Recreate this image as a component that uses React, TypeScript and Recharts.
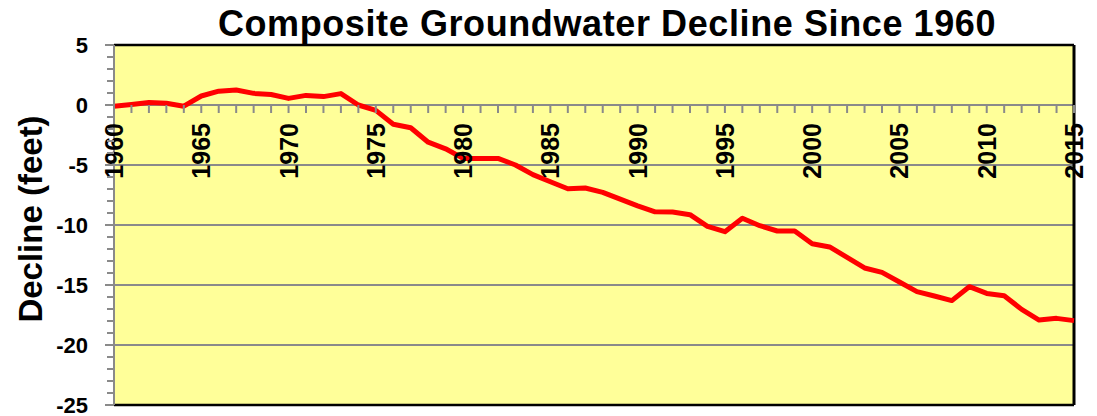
import React from 'react';
import {
  LineChart,
  Line,
  XAxis,
  YAxis,
  CartesianGrid,
  ReferenceLine,
} from 'recharts';

const YEARS = [
  1960, 1961, 1962, 1963, 1964, 1965, 1966, 1967, 1968, 1969,
  1970, 1971, 1972, 1973, 1974, 1975, 1976, 1977, 1978, 1979,
  1980, 1981, 1982, 1983, 1984, 1985, 1986, 1987, 1988, 1989,
  1990, 1991, 1992, 1993, 1994, 1995, 1996, 1997, 1998, 1999,
  2000, 2001, 2002, 2003, 2004, 2005, 2006, 2007, 2008, 2009,
  2010, 2011, 2012, 2013, 2014, 2015,
];

const DECLINE = [
  -0.1, 0.05, 0.2, 0.15, -0.1, 0.75, 1.15, 1.25, 0.97, 0.88,
  0.55, 0.8, 0.7, 0.95, 0.0, -0.45, -1.6, -1.9, -3.1, -3.65,
  -4.45, -4.45, -4.45, -5.0, -5.8, -6.4, -6.98, -6.92, -7.28, -7.85,
  -8.4, -8.9, -8.92, -9.14, -10.12, -10.56, -9.44, -10.06, -10.5, -10.5,
  -11.56, -11.83, -12.69, -13.58, -13.95, -14.75, -15.55, -15.92, -16.3, -15.14,
  -15.7, -15.9, -17.03, -17.92, -17.78, -17.97,
];

const Y_TICKS = [
  -25, -24, -23, -22, -21, -20, -19, -18, -17, -16, -15, -14, -13, -12, -11,
  -10, -9, -8, -7, -6, -5, -4, -3, -2, -1, 0, 1, 2, 3, 4, 5,
];
const Y_GRID = [-20, -15, -10, -5];
const Y_MIN = -25;
const Y_MAX = 5;
const X_MIN = 1960;
const X_MAX = 2015;

const TITLE = 'Composite Groundwater Decline Since 1960';
const Y_LABEL = 'Decline (feet)';

const FONT = '"Liberation Sans", Arial, sans-serif';
const GRAY = '#8a8a8a';

const CHART_W = 1097;
const CHART_H = 416;
const MARGIN = { top: 45, right: 23, bottom: 10, left: 0 };
const Y_AXIS_W = 114;
const X_AXIS_H = 1;
const PLOT_H = CHART_H - MARGIN.top - MARGIN.bottom - X_AXIS_H;

const data = YEARS.map((year, i) => ({ year, decline: DECLINE[i] }));

// x-axis crosses the value axis at 0
function XTick(props: any) {
  const { x, payload } = props;
  const zeroY = MARGIN.top + (PLOT_H * (Y_MAX - 0)) / (Y_MAX - Y_MIN);
  const v = payload.value as number;
  const major = v % 5 === 0;
  return (
    <g>
      <line x1={x} x2={x} y1={zeroY} y2={zeroY + 8} stroke={GRAY} strokeWidth={2} />
      {major && (
        <text
          transform={`translate(${x},${zeroY + 18}) rotate(-90)`}
          textAnchor="end"
          dy="0.36em"
          fontFamily={FONT}
          fontWeight="bold"
          fontSize={25}
          fill="#000"
        >
          {v}
        </text>
      )}
    </g>
  );
}

function YTick(props: any) {
  const { y, payload } = props;
  const axisX = MARGIN.left + Y_AXIS_W;
  const v = payload.value as number;
  const major = v % 5 === 0;
  return (
    <g>
      <line x1={axisX - (major ? 9 : 7)} x2={axisX} y1={y} y2={y} stroke={GRAY} strokeWidth={2} />
      {major && (
        <text
          x={axisX - 26}
          y={y}
          dy="0.36em"
          textAnchor="end"
          fontFamily={FONT}
          fontWeight="bold"
          fontSize={22}
          fill="#000"
        >
          {v}
        </text>
      )}
    </g>
  );
}

export default function App() {
  return (
    <div style={{ position: 'absolute', left: 0, top: 0, width: CHART_W, height: CHART_H, background: '#fff' }}>
      <LineChart width={CHART_W} height={CHART_H} data={data} margin={MARGIN}>
        <CartesianGrid
          horizontal={true}
          vertical={false}
          horizontalValues={Y_GRID}
          stroke={GRAY}
          strokeWidth={2}
          fill="#FFFF99"
          fillOpacity={1}
        />
        <ReferenceLine y={0} stroke={GRAY} strokeWidth={2} />
        <XAxis
          dataKey="year"
          type="number"
          domain={[X_MIN, X_MAX]}
          ticks={YEARS}
          interval={0}
          height={X_AXIS_H}
          axisLine={false}
          tickLine={false}
          tickSize={0}
          tickMargin={0}
          tick={(p: any) => <XTick {...p} />}
          allowDecimals={false}
        />
        <YAxis
          type="number"
          domain={[Y_MIN, Y_MAX]}
          ticks={Y_TICKS}
          interval={0}
          width={Y_AXIS_W}
          axisLine={{ stroke: GRAY, strokeWidth: 2 }}
          tickLine={false}
          tickSize={0}
          tickMargin={0}
          tick={(p: any) => <YTick {...p} />}
        />
        <ReferenceLine y={Y_MAX} stroke="#000" strokeWidth={2.5} />
        <ReferenceLine y={Y_MIN} stroke="#000" strokeWidth={2.5} />
        <ReferenceLine x={X_MAX} stroke="#000" strokeWidth={3} />
        <Line
          type="linear"
          dataKey="decline"
          stroke="#FF0000"
          strokeWidth={5}
          strokeLinejoin="round"
          dot={false}
          activeDot={false}
          isAnimationActive={false}
        />
      </LineChart>
      <svg
        width={CHART_W}
        height={CHART_H}
        style={{ position: 'absolute', left: 0, top: 0, pointerEvents: 'none' }}
      >
        <text
          x={607}
          y={36}
          textAnchor="middle"
          fontFamily={FONT}
          fontWeight="bold"
          fontSize={36}
          letterSpacing={0.6}
          fill="#000"
        >
          {TITLE}
        </text>
        <text
          transform="translate(42,219) rotate(-90)"
          textAnchor="middle"
          fontFamily={FONT}
          fontWeight="bold"
          fontSize={33}
          fill="#000"
        >
          {Y_LABEL}
        </text>
      </svg>
    </div>
  );
}
